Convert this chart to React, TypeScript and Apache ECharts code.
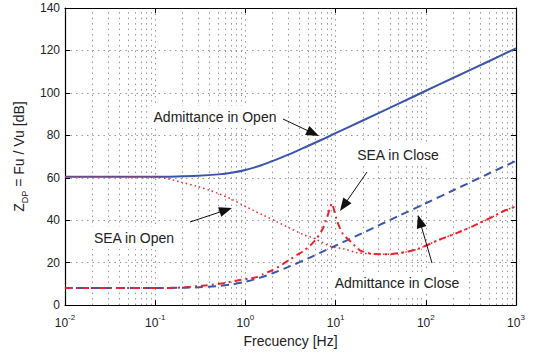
import React, { useEffect, useRef } from 'react';
import * as echarts from 'echarts';

// Frequency grids (Hz)
const freqAdm = [0.01, 0.1, 0.2, 0.3, 0.5, 0.7, 1, 1.5, 2, 3, 5, 7, 10, 20, 50, 100, 200, 500, 1000];
// Admittance in Open (dB)
const admOpen = [60.5, 60.5, 60.7, 60.9, 61.6, 62.4, 63.7, 65.9, 67.9, 70.9, 75.1, 77.9, 81, 87, 94.9, 101, 107, 114.9, 121];
// Admittance in Close (dB)
const admClose = [8, 8, 8.2, 8.4, 9, 9.7, 11, 13.1, 15, 18, 22.1, 25, 28, 34, 42, 48, 54, 62, 68];

// SEA in Open
const freqSeaOpen = [0.01, 0.05, 0.1, 0.13, 0.19, 0.29, 0.4, 0.5, 0.68, 0.94, 1.2, 1.56, 2.2, 3.1, 4.4, 5.6, 8.7, 12.6, 17, 26, 40, 60, 80, 143, 222, 330, 508, 777, 1000];
const seaOpen = [60.5, 60.5, 60.4, 59.8, 58, 56, 54.1, 52.6, 50.2, 47.1, 44.8, 42.5, 39.4, 36.3, 33.2, 31.7, 27.8, 26.4, 24.8, 24.1, 24, 25, 26.3, 30.9, 34, 37.1, 40.9, 44.8, 46.5];

// SEA in Close
const freqSeaClose = [0.01, 0.1, 0.2, 0.37, 0.6, 0.81, 1.1, 1.34, 1.56, 2.0, 2.42, 3.0, 3.7, 4.4, 5.2, 6.2, 7.2, 8.0, 8.7, 9.1, 9.6, 10.4, 12.1, 15.2, 18.6, 26, 40, 60, 80, 143, 222, 330, 508, 777, 1000];
const seaClose = [8, 8, 8.3, 9.3, 10.5, 11.6, 12.5, 13.2, 14.5, 16.5, 18.5, 21, 23.5, 25.5, 28, 31.5, 36, 41, 46, 48, 45, 39.5, 33.4, 29.3, 25.8, 24.1, 24, 25, 26.3, 30.9, 34, 37.1, 40.9, 44.8, 46.5];

// Axis ticks
const yTicks = [0, 20, 40, 60, 80, 100, 120, 140];
const minorMultipliers = [2, 3, 4, 5, 6, 7, 8, 9];
const decades = [0.01, 0.1, 1, 10, 100];

const BLUE = '#3a56a8';
const RED = '#e8232d';
const FONT = '"Liberation Sans", Arial, Helvetica, sans-serif';

const pairs = (xs: number[], ys: number[]) => xs.map((x, i) => [x, ys[i]]);

const annotations = [
  { text: 'Admittance in Open', x: 215, y: 117, from: [283, 119], to: [319, 136] },
  { text: 'SEA in Close', x: 398, y: 155, from: [367, 172], to: [340, 211] },
  { text: 'SEA in Open', x: 134, y: 238, from: [190, 222], to: [232, 208] },
  { text: 'Admittance in Close', x: 397, y: 283, from: [432, 263], to: [418, 215] },
];

function arrowElements(from: number[], to: number[]) {
  const [x1, y1] = from;
  const [x2, y2] = to;
  const dx = x2 - x1, dy = y2 - y1;
  const L = Math.hypot(dx, dy);
  const ux = dx / L, uy = dy / L;
  const hl = 13, hw = 5;
  const bx = x2 - ux * hl, by = y2 - uy * hl;
  return [
    {
      type: 'line',
      shape: { x1, y1, x2: bx + ux * 2, y2: by + uy * 2 },
      style: { stroke: '#111', lineWidth: 1 },
      z: 100,
    },
    {
      type: 'polygon',
      shape: { points: [[x2, y2], [bx - uy * hw, by + ux * hw], [bx + uy * hw, by - ux * hw]] },
      style: { fill: '#111' },
      z: 100,
    },
  ];
}

export default function App() {
  const ref = useRef<HTMLDivElement>(null);
  useEffect(() => {
    const chart = echarts.init(ref.current!, null, { renderer: 'svg' });
    const minorX: number[] = [];
    decades.forEach((d) => minorMultipliers.forEach((m) => minorX.push(+(d * m).toPrecision(3))));

    const dotted = { type: [1.5, 4] as any, color: '#999', width: 1 };

    const graphic: any[] = [];
    annotations.forEach((a) => {
      graphic.push({
        type: 'text',
        x: a.x,
        y: a.y,
        z: 101,
        style: {
          text: a.text,
          font: `14px ${FONT}`,
          fill: '#222',
          align: 'center',
          verticalAlign: 'middle',
          backgroundColor: '#fff',
          padding: [4, 4],
        },
      });
      graphic.push(...arrowElements(a.from, a.to));
    });

    const xLabel = {
      formatter: (v: number) => {
        const e = Math.round(Math.log10(v));
        return `{b|10}{s|${e}}`;
      },
      margin: 8,
      color: '#222',
      rich: {
        b: { fontSize: 12, lineHeight: 16, verticalAlign: 'bottom', fontFamily: FONT, color: '#222' },
        s: { fontSize: 8, lineHeight: 10, verticalAlign: 'top', fontFamily: FONT, color: '#222' },
      },
    };

    const option: any = {
      animation: false,
      textStyle: { fontFamily: FONT },
      grid: { left: 65, top: 8, right: 17, bottom: 43, containLabel: false },
      xAxis: [
        {
          type: 'log',
          logBase: 10,
          min: 0.01,
          max: 1000,
          splitNumber: 5,
          axisLine: { show: true, onZero: false, lineStyle: { color: '#000', width: 1.2 } },
          axisTick: { show: true, inside: true, length: 5, lineStyle: { color: '#000' } },
          axisLabel: xLabel,
          splitLine: { show: true, lineStyle: dotted },
          minorTick: { show: false },
          name: 'Frecuency [Hz]',
          nameLocation: 'middle',
          nameGap: 24,
          nameTextStyle: { fontSize: 14, color: '#222', fontFamily: FONT },
        },
        {
          type: 'log',
          logBase: 10,
          min: 0.01,
          max: 1000,
          splitNumber: 5,
          position: 'top',
          axisLine: { show: true, onZero: false, lineStyle: { color: '#000', width: 1.2 } },
          axisTick: { show: true, inside: true, length: 5, lineStyle: { color: '#000' } },
          axisLabel: { show: false },
          splitLine: { show: false },
        },
      ],
      yAxis: [
        {
          type: 'value',
          min: yTicks[0],
          max: yTicks[yTicks.length - 1],
          interval: 20,
          axisLine: { show: true, onZero: false, lineStyle: { color: '#000', width: 1.2 } },
          axisTick: { show: true, inside: true, length: 5, lineStyle: { color: '#000' } },
          axisLabel: { fontSize: 12, margin: 5, color: '#222', fontFamily: FONT },
          splitLine: { show: true, lineStyle: dotted },
          name: '{m|Z}{d|DP}{m| = Fu / Vu [dB]}',
          nameLocation: 'middle',
          nameGap: 28,
          nameTextStyle: {
            color: '#222',
            rich: {
              m: { fontSize: 14, lineHeight: 14, fontFamily: FONT, color: '#222' },
              d: { fontSize: 9, padding: [12, 0, 0, 0], fontFamily: FONT, color: '#222' },
            },
          },
        },
        {
          type: 'value',
          min: yTicks[0],
          max: yTicks[yTicks.length - 1],
          interval: 20,
          position: 'right',
          axisLine: { show: true, onZero: false, lineStyle: { color: '#000', width: 1.2 } },
          axisTick: { show: true, inside: true, length: 5, lineStyle: { color: '#000' } },
          axisLabel: { show: false },
          splitLine: { show: false },
        },
      ],
      series: [
        {
          type: 'line',
          name: 'grid',
          data: [[0.01, 0]],
          symbol: 'none',
          lineStyle: { opacity: 0 },
          silent: true,
          z: 1,
          markLine: {
            silent: true,
            symbol: ['none', 'none'],
            label: { show: false },
            lineStyle: dotted,
            animation: false,
            data: minorX.map((v) => ({ xAxis: v })),
          },
        },
        {
          type: 'line',
          name: 'Admittance in Open',
          data: pairs(freqAdm, admOpen),
          symbol: 'none',
          smooth: 0.3,
          z: 5,
          lineStyle: { color: BLUE, width: 2 },
        },
        {
          type: 'line',
          name: 'Admittance in Close',
          data: pairs(freqAdm, admClose),
          symbol: 'none',
          smooth: 0.3,
          z: 5,
          lineStyle: { color: BLUE, width: 2, type: [8, 5] },
        },
        {
          type: 'line',
          name: 'SEA in Open',
          data: pairs(freqSeaOpen, seaOpen),
          symbol: 'none',
          smooth: 0.3,
          z: 6,
          lineStyle: { color: RED, width: 1.5, type: [1.5, 3] },
        },
        {
          type: 'line',
          name: 'SEA in Close',
          data: pairs(freqSeaClose, seaClose),
          symbol: 'none',
          smooth: 0.2,
          z: 7,
          lineStyle: { color: RED, width: 2, type: [7, 4, 2, 4] },
        },
      ],
      graphic,
    };
    chart.setOption(option);
    return () => chart.dispose();
  }, []);
  return (
    <div
      ref={ref}
      style={{ position: 'fixed', left: 0, top: 0, width: 533, height: 353, background: '#fff' }}
    />
  );
}
